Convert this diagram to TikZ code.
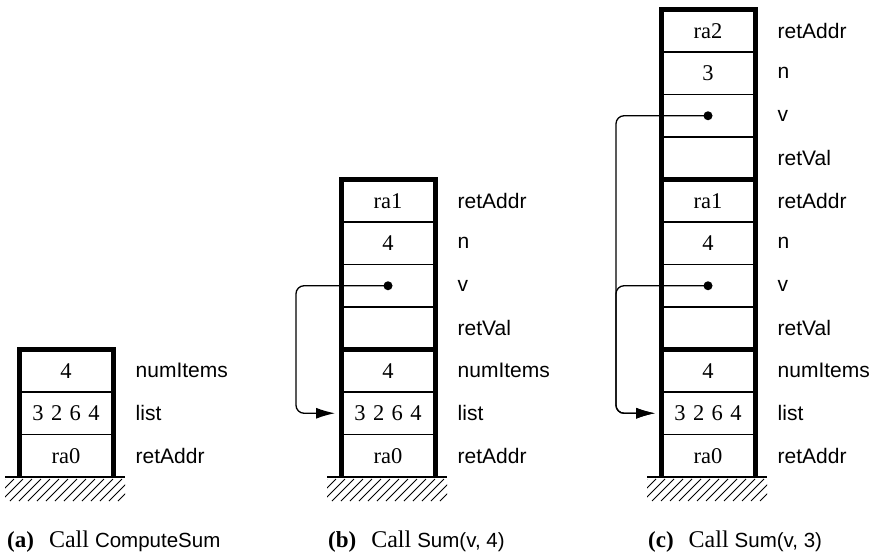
\documentclass[tikz,border=0pt]{standalone}
\usepackage{fontspec}
\setmainfont{Liberation Serif}
\setsansfont{Liberation Sans}
\usetikzlibrary{arrows.meta,calc}

\newcommand{\valfont}{\fontsize{22.5}{26}\selectfont\rmfamily}
\newcommand{\lblfont}{\fontsize{21}{25}\selectfont\sffamily}
\newcommand{\capfont}{\fontsize{23}{26}\selectfont\rmfamily}
\newcommand{\capsans}[1]{{\fontsize{20.5}{24}\selectfont\sffamily #1}}
\newcommand{\capcall}{{\fontsize{24}{28}\selectfont Call}}
\newcommand{\listval}{3\hspace{0.33em}2\hspace{0.33em}6\hspace{0.33em}4}

\tikzset{
  cell/.style={draw, line width=1.2pt, minimum width=94pt, minimum height=42.5pt,
               inner sep=0pt, outer sep=0pt, anchor=north west, font=\valfont},
  lbl/.style={anchor=west, inner sep=0pt, font=\lblfont},
  frame/.style={line width=5pt, line join=miter},
  ground/.style={line width=2.5pt},
  hatch/.style={line width=1pt},
  dotmark/.style={circle, fill, inner sep=0pt, minimum size=9pt},
  ptr/.style={line width=1.3pt, rounded corners=8pt, -{Latex[length=19pt,width=11pt]}},
  captext/.style={anchor=base west, inner sep=0pt, font=\capfont},
}

% one stack of cells: #1 name prefix, #2 left x, #3 top y, #4 value/label list
\newcommand{\buildstack}[4]{%
  \foreach \val/\lab [count=\i] in {#4} {
    \node[cell] (#1\i) at (#2, #3+42.5*\i-42.5) {\val};
    \node[lbl] (#1l\i) at (#2+116.5, #3+42.5*\i-21.25) {\lab};
  }}

% ground line with hatching under a stack whose frame starts at x = #1
\newcommand{\gndhatch}[1]{%
  \draw[ground] (#1-14,477) -- (#1+106,477);
  \begin{scope}
    \clip (#1-14,478.5) rectangle (#1+106,501);
    \foreach \k in {0,...,16} \draw[hatch] (#1-36+9*\k,501) -- (#1-14+9*\k,479);
  \end{scope}}

\begin{document}
\begin{tikzpicture}[x=1pt, y=-1pt]
  \useasboundingbox (0,0) rectangle (869,554);

  % ---- (a) ----
  \buildstack{a}{19}{349.5}{4/numItems, \listval/list, ra0/retAddr}
  \draw[frame] (a3.south west) -- (a1.north west) -- (a1.north east) -- (a3.south east);
  \gndhatch{19}

  % ---- (b) ----
  \buildstack{b}{341}{179.5}{ra1/retAddr, 4/n, {}/v, {}/retVal,
    4/numItems, \listval/list, ra0/retAddr}
  \draw[frame] (b7.south west) -- (b1.north west) -- (b1.north east) -- (b7.south east);
  \draw[frame] (b4.south west) -- (b4.south east);
  \gndhatch{341}
  \node[dotmark] (bdot) at (b3) {};
  \coordinate (bturn) at ($(b6.west)+(-45,0)$);
  \coordinate (btip) at ($(b6.west)+(-6,0)$);
  \draw[ptr] (bdot.center) -| (bturn) -- (btip);

  % ---- (c) ----
  \buildstack{c}{661}{9.5}{ra2/retAddr, 3/n, {}/v, {}/retVal,
    ra1/retAddr, 4/n, {}/v, {}/retVal,
    4/numItems, \listval/list, ra0/retAddr}
  \draw[frame] (c11.south west) -- (c1.north west) -- (c1.north east) -- (c11.south east);
  \draw[frame] (c4.south west) -- (c4.south east);
  \draw[frame] (c8.south west) -- (c8.south east);
  \gndhatch{661}
  \node[dotmark] (cdota) at (c3) {};
  \node[dotmark] (cdotb) at (c7) {};
  \coordinate (cturn) at ($(c10.west)+(-45,0)$);
  \coordinate (ctip) at ($(c10.west)+(-6,0)$);
  \draw[ptr] (cdota.center) -| (cturn) -- (ctip);
  \draw[ptr] (cdotb.center) -| (cturn) -- (ctip);

  % ---- captions ----
  \node[captext] (capa) at (7,547) {\textbf{(a)}\hspace{15pt}\capcall\hspace{6pt}\capsans{ComputeSum}};
  \node[captext] (capb) at (328,547) {\textbf{(b)}\hspace{15pt}\capcall\hspace{6pt}\capsans{Sum(v, 4)}};
  \node[captext] (capc) at (648,547) {\textbf{(c)}\hspace{15pt}\capcall\hspace{6pt}\capsans{Sum(v, 3)}};
\end{tikzpicture}
\end{document}
